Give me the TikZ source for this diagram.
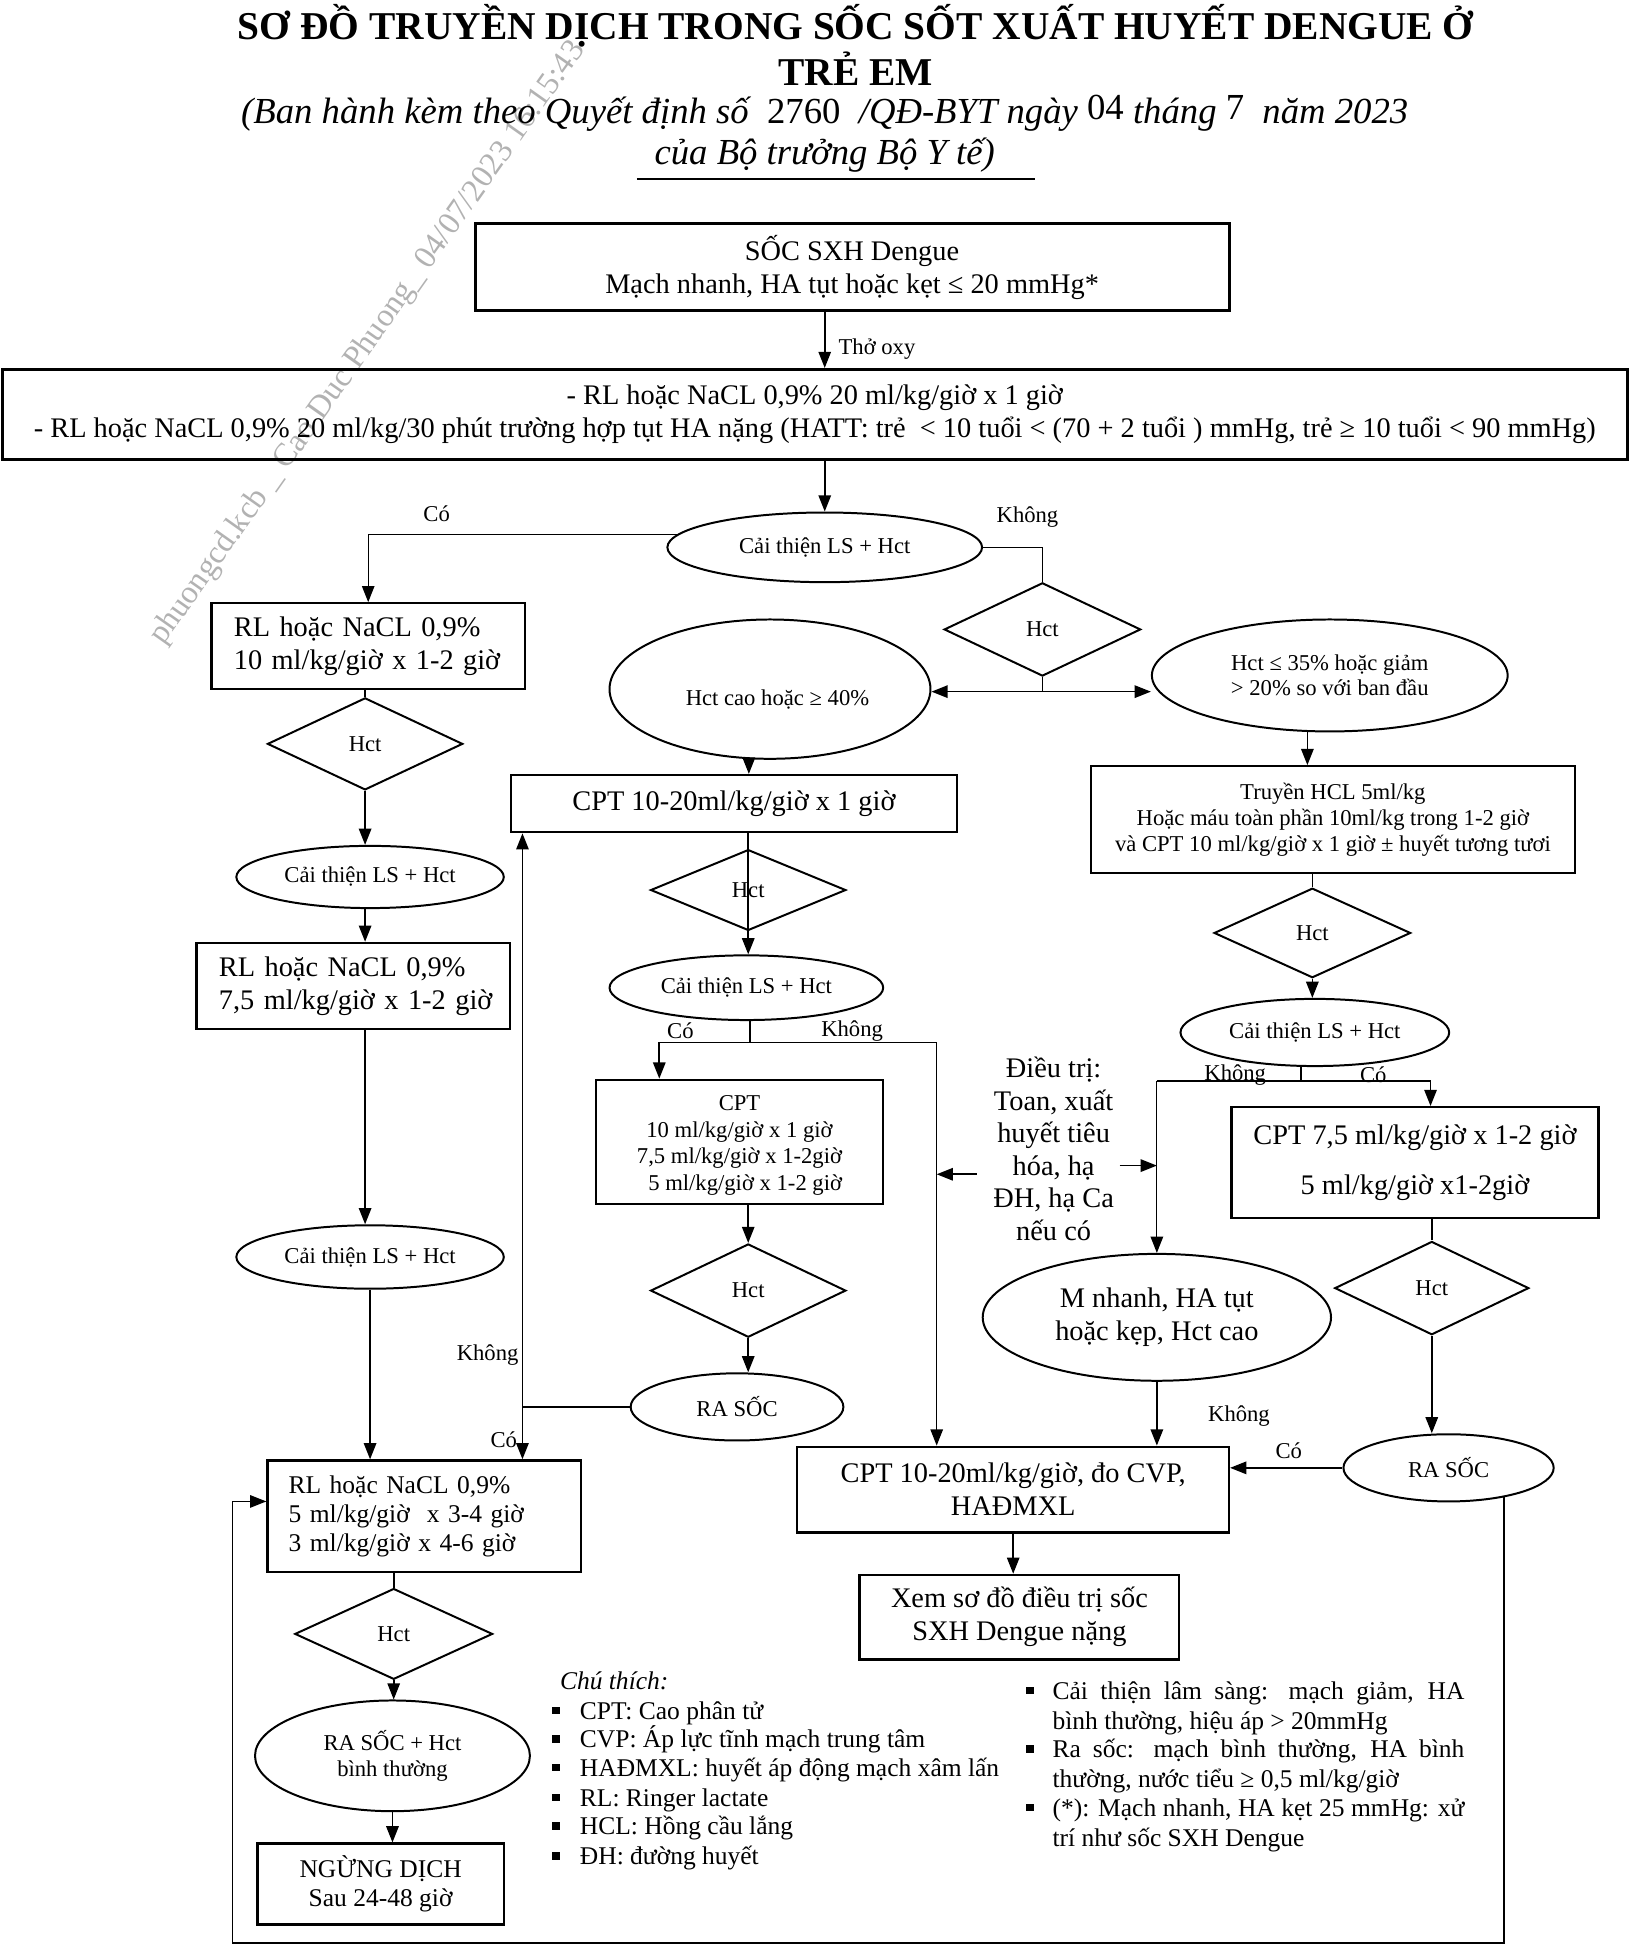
\documentclass[tikz,border=0pt]{standalone}
\usepackage{fontspec}
\setmainfont{Liberation Serif}
\usetikzlibrary{shapes.geometric,arrows.meta,calc}
\begin{document}
\begin{tikzpicture}[x=1pt,y=-1pt,
 bx/.style={draw, line width=1.8pt, inner sep=0pt, align=center},
 el/.style={draw, ellipse, line width=1.6pt, inner sep=0pt, align=center},
 dm/.style={draw, diamond, line width=1.6pt, inner sep=0pt},
 ar/.style={-{Triangle[width=10pt,length=13pt]}, line width=1.3pt},
 ln/.style={line width=1.3pt},
 tl/.style={line width=1pt},
 big/.style={font=\fontsize{22.8}{26.5}\selectfont},
 sm/.style={font=\fontsize{18.2}{21}\selectfont},
 lab/.style={font=\fontsize{18.2}{21}\selectfont, inner sep=0pt},
 leg/.style={font=\fontsize{20.5}{23.5}\selectfont, inner sep=0pt, anchor=base west},
 bul/.style={fill, minimum size=6pt, inner sep=0pt}]
\useasboundingbox (0,0) rectangle (1310,1566);

% watermark
\node[rotate=54.7, text=black!30, font=\fontsize{26}{30}\selectfont, inner sep=0] (wm) at (296,276) {phuongcd.kcb \_ Cao Duc Phuong\_ 04/07/2023 16:15:43};

% title
\node[font=\bfseries\fontsize{31.7}{37}\selectfont, align=center, inner sep=0] (title) at (688,36) {SƠ ĐỒ TRUYỀN DỊCH TRONG SỐC SỐT XUẤT HUYẾT DENGUE Ở\\TRẺ EM};
\node[font=\fontsize{29.5}{32}\selectfont, inner sep=0] (sub1) at (663,91) {\itshape (Ban hành kèm theo Quyết định số\ \ {\upshape 2760}\ \ /QĐ-BYT ngày \raisebox{3pt}{\upshape 04} tháng \raisebox{3pt}{\upshape 7}\ \ năm 2023};
\node[font=\itshape\fontsize{29.5}{32}\selectfont, inner sep=0] (sub2) at (663,125) {của Bộ trưởng Bộ Y tế)};
\draw[line width=1.3pt] ([xshift=-14pt,yshift=-5pt]sub2.south west) -- ([xshift=32pt,yshift=-5pt]sub2.south east);

% boxes and shapes
\node[bx, line width=2.4pt, big, minimum width=606pt, minimum height=70pt] (top) at (685,215) {SỐC SXH Dengue\\Mạch nhanh, HA tụt hoặc kẹt ≤ 20 mmHg*};
\node[bx, line width=2.4pt, big, minimum width=1306pt, minimum height=72pt] (rl1) at (655,333) {- RL hoặc NaCL 0,9\% 20 ml/kg/giờ x 1 giờ\\- RL hoặc NaCL 0,9\% 20 ml/kg/30 phút trường hợp tụt HA nặng (HATT: trẻ\ \ < 10 tuổi < (70 + 2 tuổi ) mmHg, trẻ ≥ 10 tuổi < 90 mmHg)};
\node[el, sm, minimum width=253pt, minimum height=56pt] (ct0) at (663,440) {Cải thiện LS + Hct};
\node[dm, sm, minimum width=158pt, minimum height=75pt] (hct0) at (838,506) {Hct};
\node[el, minimum width=258pt, minimum height=112pt] (hcao) at (619,554) {};
\node[sm, inner sep=0pt] (hcaot) at (625,562) {Hct cao hoặc ≥ 40\%};
\node[el, sm, font=\fontsize{18.2}{20}\selectfont, minimum width=286pt, minimum height=90pt] (hlow) at (1069,543) {Hct ≤ 35\% hoặc giảm\\> 20\% so với ban đầu};
\node[bx, big, minimum width=359pt, minimum height=46pt] (cpt1) at (590,646) {CPT 10-20ml/kg/giờ x 1 giờ};
\node[bx, sm, minimum width=389pt, minimum height=86pt] (hcl) at (1071.5,659) {Truyền HCL 5ml/kg\\Hoặc máu toàn phần 10ml/kg trong 1-2 giờ\\và CPT 10 ml/kg/giờ x 1 giờ ± huyết tương tươi};

\node[bx, big, align=left, text width=216pt, minimum width=252pt, minimum height=69pt] (rl10) at (296,519.5) {\mbox{RL hoặc NaCL 0,9\%}\\\mbox{10 ml/kg/giờ x 1-2 giờ}};
\node[dm, sm, minimum width=157pt, minimum height=74pt] (hctL1) at (293.5,598) {Hct};
\node[el, sm, minimum width=215pt, minimum height=50pt] (ctL1) at (297.5,705) {Cải thiện LS + Hct};
\node[bx, big, align=left, text width=216pt, minimum width=252pt, minimum height=69pt] (rl75) at (284,792.5) {\mbox{RL hoặc NaCL 0,9\%}\\\mbox{7,5 ml/kg/giờ x 1-2 giờ}};
\node[el, sm, minimum width=215pt, minimum height=51pt] (ctL2) at (297.5,1010.5) {Cải thiện LS + Hct};
\node[bx, font=\fontsize{20.5}{23.5}\selectfont, align=left, text width=218pt, minimum width=252pt, minimum height=90pt] (rl5) at (341,1219) {\mbox{RL hoặc NaCL 0,9\%}\\\mbox{5 ml/kg/giờ\ \ x 3-4 giờ}\\\mbox{3 ml/kg/giờ x 4-6 giờ}};
\node[dm, sm, minimum width=159pt, minimum height=73pt] (hctL2) at (316.5,1313.5) {Hct};
\node[el, sm, minimum width=221pt, minimum height=89pt] (rasocL) at (315.5,1411.5) {RA SỐC + Hct\\bình thường};
\node[bx, font=\fontsize{20.5}{23}\selectfont, minimum width=198pt, minimum height=65pt] (stop) at (306,1514.5) {NGỪNG DỊCH\\Sau 24-48 giờ};

\node[dm, sm, minimum width=157pt, minimum height=65pt] (hctM1) at (601.5,715.5) {Hct};
\node[el, sm, minimum width=220pt, minimum height=52pt] (ctM) at (600,794) {Cải thiện LS + Hct};
\node[bx, font=\fontsize{18.2}{21.3}\selectfont, minimum width=231pt, minimum height=100pt] (cptM) at (594.5,918) {};
\node[font=\fontsize{18.2}{21.3}\selectfont, align=center, inner sep=0pt] (cptMt) at (594.5,921) {CPT\\10 ml/kg/giờ x 1 giờ\\7,5 ml/kg/giờ x 1-2giờ\\\ \ 5 ml/kg/giờ x 1-2 giờ};
\node[dm, sm, minimum width=157pt, minimum height=75pt] (hctM2) at (601.5,1037.5) {Hct};
\node[el, sm, minimum width=171pt, minimum height=54pt] (rasocM) at (592.5,1131) {RA SỐC};

\node[dm, sm, minimum width=158pt, minimum height=72pt] (hctR2) at (1055,750) {Hct};
\node[el, sm, minimum width=216pt, minimum height=54pt] (ctR) at (1057,830) {Cải thiện LS + Hct};
\node[bx, font=\fontsize{22.8}{40}\selectfont, minimum width=295pt, minimum height=89pt] (cpt75) at (1137.5,934.5) {CPT 7,5 ml/kg/giờ x 1-2 giờ\\5 ml/kg/giờ x1-2giờ};
\node[dm, sm, minimum width=156pt, minimum height=75pt] (hctR3) at (1151,1035.5) {Hct};
\node[el, sm, minimum width=169pt, minimum height=54pt] (rasocR) at (1164.5,1180) {RA SỐC};
\node[el, big, minimum width=280pt, minimum height=102pt] (mnhanh) at (930,1059) {M nhanh, HA tụt\\hoặc kẹp, Hct cao};
\node[bx, big, minimum width=347pt, minimum height=69pt] (cptB) at (814.5,1197.5) {CPT 10-20ml/kg/giờ, đo CVP,\\HAĐMXL};
\node[bx, big, minimum width=257pt, minimum height=68pt] (xem) at (819.5,1300) {Xem sơ đồ điều trị sốc\\SXH Dengue nặng};
\node[font=\fontsize{22.8}{26.2}\selectfont, align=center, inner sep=0] (dieutri) at (847,923.5) {Điều trị:\\Toan, xuất\\huyết tiêu\\hóa, hạ\\ĐH, hạ Ca\\nếu có};

% labels
\node[lab] (lco0) at (351,413) {Có};
\node[lab] (lkh0) at (826,416) {Không};
\node[lab] (loxy) at (705,281) {Thở oxy};
\node[lab] (lcoM) at (547,829) {Có};
\node[lab] (lkhM) at (685,829) {Không};
\node[lab] (lkhL) at (392,1089) {Không};
\node[lab] (lcoL) at (405,1157) {Có};
\node[lab] (lkhR) at (993,864) {Không};
\node[lab] (lcoR) at (1104,864) {Có};
\node[lab] (lkhB) at (996,1138) {Không};
\node[lab] (lcoB) at (1036,1166) {Có};

% connectors
\draw[ar] (top.south -| ct0.north) -- (rl1.north -| ct0.north);
\draw[ar] (rl1.south -| ct0.north) -- (ct0.north);
\draw[ar, line width=1pt] (ct0.175) -| (rl10.north);
\draw[ln] (ct0.east) -| (hct0.north);
\coordinate (j1) at (838,556);
\draw[ln] (hct0.south) -- (j1);
\draw[ar] (j1) -- (hcao.east |- j1);
\draw[ar] (j1) -- (hlow.west |- j1);
\coordinate (h1) at ([xshift=-18pt]hlow.south);
\draw[ar] (h1) -- (h1 |- hcl.north);
\coordinate (h2) at ([xshift=-17pt]hcao.south);
\draw[ar] (h2) -- (h2 |- cpt1.north);

\draw[ar] (hctM1.north |- cpt1.south) -- (hctM1.north |- ctM.north);
\coordinate (j2) at (603,838);
\coordinate (j2L) at (530,838);
\coordinate (j2R) at (753,838);
\draw[ln] (j2 |- ctM.south) -- (j2);
\draw[tl] (j2L) -- (j2R);
\draw[ar] (j2L) -- (j2L |- cptM.north);
\draw[ar, line width=1pt] (j2R) -- (j2R |- cptB.north);
\draw[ar] (cptM.south -| hctM2.north) -- (hctM2.north);
\draw[ar] (hctM2.south) -- (rasocM.north -| hctM2.south);
\coordinate (j3) at (420,1131);
\draw[ln] (rasocM.west) -- (j3);
\draw[ar] (j3) -- (j3 |- cpt1.south);
\draw[ar] (j3) -- (j3 |- rl5.north);

\draw[ln] (rl10.south -| hctL1.north) -- (hctL1.north);
\draw[ar] (hctL1.south) -- (hctL1.south |- ctL1.north);
\draw[ar] (ctL1.south -| hctL1.south) -- (hctL1.south |- rl75.north);
\draw[ar] (rl75.south -| hctL1.south) -- (hctL1.south |- ctL2.north);
\draw[ar] (ctL2.south) -- (ctL2.south |- rl5.north);
\draw[ln] (rl5.south -| hctL2.north) -- (hctL2.north);
\draw[ar] (hctL2.south) -- (rasocL.north -| hctL2.south);
\draw[ar] (rasocL.south) -- (rasocL.south |- stop.north);

\draw[ln] (hcl.south -| hctR2.north) -- (hctR2.north);
\draw[ar] (hctR2.south) -- (hctR2.south |- ctR.north);
\coordinate (j4) at (1046,869);
\coordinate (j4L) at (930,869);
\coordinate (j4R) at (1150,869);
\draw[ln] (j4 |- ctR.south) -- (j4);
\draw[tl] (j4L) -- (j4R);
\draw[ar] (j4R) -- (j4R |- cpt75.north);
\draw[ar, line width=1pt] (j4L) -- (mnhanh.north);
\draw[ln] (cpt75.south -| hctR3.north) -- (hctR3.north);
\draw[ar] (hctR3.south) -- (hctR3.south |- rasocR.north);
\draw[ar] (rasocR.west) -- (rasocR.west -| cptB.east);
\draw[ar] (mnhanh.south) -- (mnhanh.south |- cptB.north);
\draw[ar] (cptB.south) -- (cptB.south |- xem.north);
\coordinate (lp1) at (1209,1203);
\coordinate (lp2) at (1209,1562);
\coordinate (lp3) at (187,1562);
\coordinate (lp4) at (187,1207);
\draw[ar, line width=1pt] (lp1) -- (lp2) -- (lp3) -- (lp4) -- (lp4 -| rl5.west);

\coordinate (dl) at (785,944);
\coordinate (dr) at (900,937);
\draw[ar] (dl) -- (dl -| j2R);
\draw[ar] (dr) -- (dr -| j4L);

% legend
\node[font=\itshape\fontsize{20.5}{23.5}\selectfont, inner sep=0, anchor=base west] (chu) at (450,1358) {Chú thích:};
\node[leg] (l1) at (466,1382) {CPT: Cao phân tử};
\node[leg] (l2) at (466,1405) {CVP: Áp lực tĩnh mạch trung tâm};
\node[leg] (l3) at (466,1428) {HAĐMXL: huyết áp động mạch xâm lấn};
\node[leg] (l4) at (466,1452) {RL: Ringer lactate};
\node[leg] (l5) at (466,1475) {HCL: Hồng cầu lắng};
\node[leg] (l6) at (466,1499) {ĐH: đường huyết};
\foreach \yy/\nn in {1375/1,1398/2,1421/3,1445/4,1468/5,1492/6} \node[bul] (bl\nn) at (447,\yy) {};

\node[leg] (r1a) at (846,1366) {\makebox[331pt][s]{Cải thiện lâm sàng: mạch giảm, HA}};
\node[leg] (r1b) at (846,1390) {bình thường, hiệu áp > 20mmHg};
\node[leg] (r2a) at (846,1413) {\makebox[331pt][s]{Ra sốc: mạch bình thường, HA bình}};
\node[leg] (r2b) at (846,1437) {thường, nước tiểu ≥ 0,5 ml/kg/giờ};
\node[leg] (r3a) at (846,1460) {\makebox[331pt][s]{(*): Mạch nhanh, HA kẹt 25 mmHg: xử}};
\node[leg] (r3b) at (846,1484) {trí như sốc SXH Dengue};
\foreach \yy/\nn in {1359/1,1406/2,1453/3} \node[bul] (br\nn) at (828,\yy) {};
\end{tikzpicture}
\end{document}
